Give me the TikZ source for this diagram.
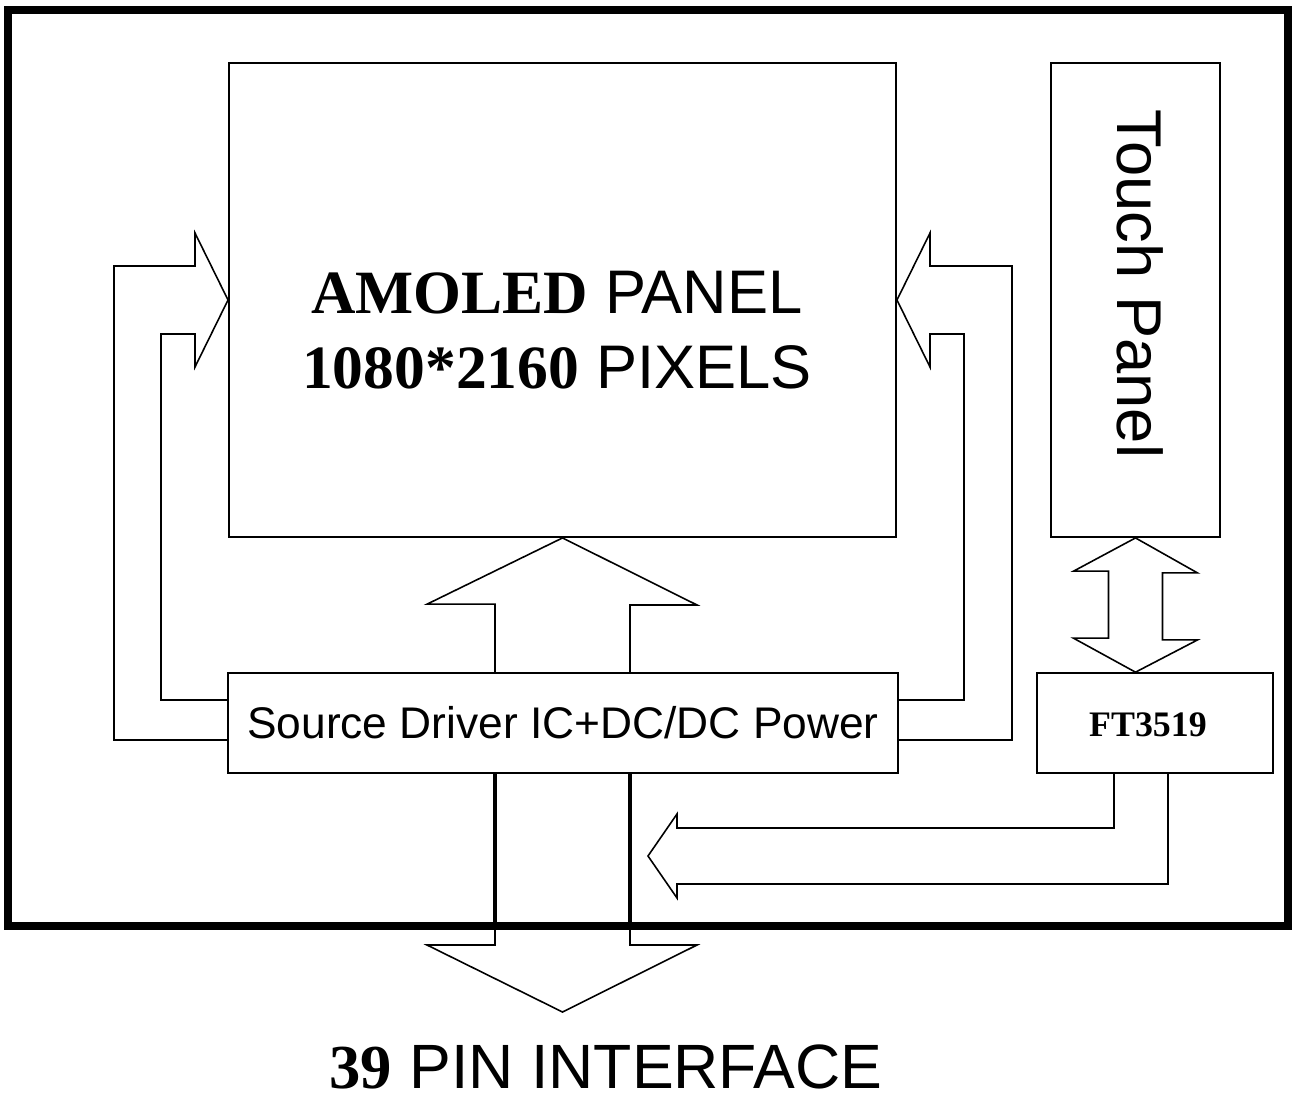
\documentclass[tikz,border=0pt]{standalone}
\usepackage{fontspec}
\setmainfont{Liberation Sans}
\newfontfamily\tnr{Liberation Serif}
\tikzset{
  box/.style={draw,line width=0.45pt,inner sep=0pt},
  pipe/.style={draw,line width=0.45pt,line join=miter},
  bus/.style={line width=1.3pt},
  frame/.style={line width=2.3pt}
}
\begin{document}
\begin{tikzpicture}[x=0.01cm,y=-0.01cm]
        \useasboundingbox(0,0)rectangle(1293,1100);
        \draw[frame](8,10)rectangle(1288,926);

        % blocchi
        \node[box,minimum width=6.67cm,minimum height=4.74cm](panel)at(562.5,300){};
        \node[box,minimum width=1.69cm,minimum height=4.74cm](touch)at(1135.5,300){};
        \node[box,minimum width=6.70cm,minimum height=1cm,font=\fontsize{12.6}{15}\selectfont](drv)at(563,723){Source Driver IC+DC/DC Power};
        \node[box,minimum width=2.36cm,minimum height=1cm](ft)at(1155,723){};

        % testi
        \node[font=\fontsize{10.2}{12}\selectfont\tnr\bfseries](fttxt)at(1148,725){FT3519};
        \node[align=center,font=\fontsize{17.5}{21.3}\selectfont](paneltxt)at(557,330){{\tnr\bfseries AMOLED} PANEL\\{\tnr\bfseries 1080*2160} PIXELS};
        \node[rotate=-90,font=\fontsize{18}{21}\selectfont](touchtxt)at(1140,284){Touch Panel};
        \node[anchor=base,font=\fontsize{17.8}{21}\selectfont](pintxt)at(606,1088){{\tnr\bfseries 39} PIN INTERFACE};

        % frecce laterali
        \draw[pipe](drv.west|-0,740)-|(114,266)--++(81,0)--++(0,-33)--(panel.west)--(195,367)--++(0,-33)-|(161,700)--(drv.west|-0,700);
        \draw[pipe](drv.east|-0,740)-|(1012,266)--++(-82,0)--++(0,-33)--(panel.east)--(930,367)--++(0,-33)-|(964,700)--(drv.east|-0,700);

        % freccia centrale
        \draw[pipe](drv.north-|495,0)--++(0,-68)--++(-68,0)--(panel.south)--(697,605)--++(-67,0)--(drv.north-|630,0);

        % freccia in basso
        \coordinate(pin)at(562.5,1012);
        \draw[pipe](drv.south-|495,0)--(495,945)--++(-68,0)--(pin)--(697,945)--++(-67,0)--(drv.south-|630,0);
        \draw[bus](drv.south-|495,0)--(495,926);
        \draw[bus](drv.south-|630,0)--(630,926);

        % touch <-> FT3519
        \draw[pipe](touch.south)--++(62,35)--++(-35,0)--++(0,67)--++(35,0)--(ft.north-|touch.south)--++(-62,-34)--++(35,0)--++(0,-67)--++(-35,0)--cycle;

        % FT3519 -> interfaccia
        \coordinate(tip)at(648,856);
        \draw[pipe](ft.south-|1114,0)--(1114,828)--(677,828)--++(0,-14)--(tip)--(677,898)--++(0,-14)--(1168,884)--(ft.south-|1168,0);
\end{tikzpicture}
\end{document}
